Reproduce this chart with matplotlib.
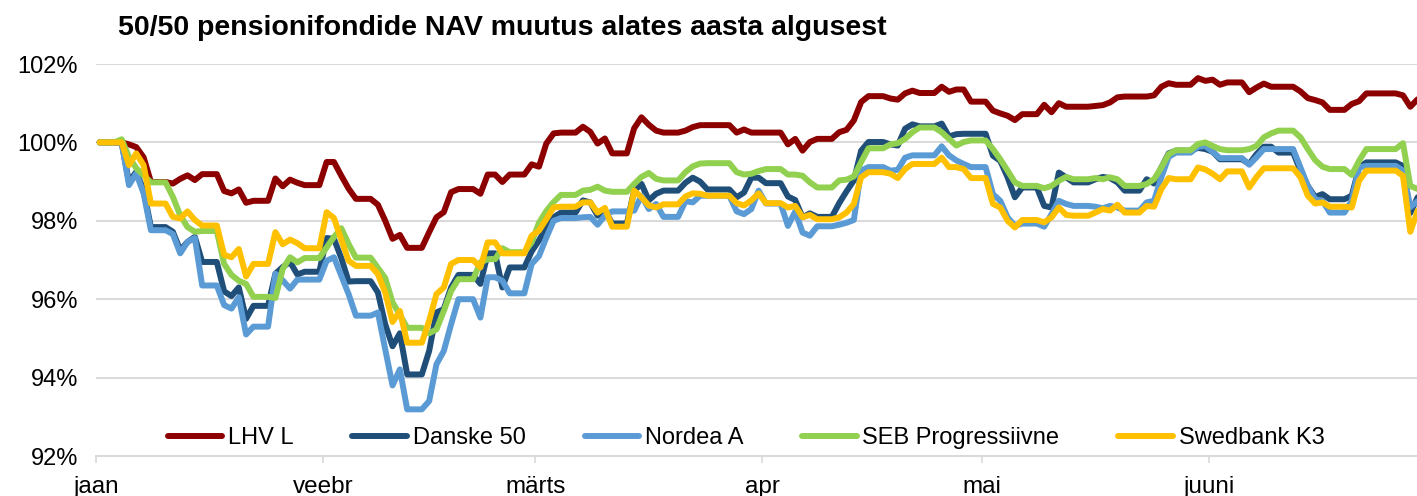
import matplotlib
matplotlib.use("Agg")
import matplotlib.pyplot as plt
import matplotlib.dates as mdates
import pandas as pd
import numpy as np

plt.rcParams['font.family'] = ['Liberation Sans', 'DejaVu Sans']

title = "50/50 pensionifondide NAV muutus alates aasta algusest"
dates = pd.date_range("2016-01-01", "2016-06-29", freq="D")
month_ticks = ["2016-01-01", "2016-02-01", "2016-03-01", "2016-04-01", "2016-05-01", "2016-06-01"]
month_labels = ["jaan", "veebr", "märts", "apr", "mai", "juuni"]
y_ticks = [92, 94, 96, 98, 100, 102]
y_labels = ["92%", "94%", "96%", "98%", "100%", "102%"]

lhv = [100.00, 100.00, 100.00,
       100.00, 99.95, 99.88, 99.62, 98.99, 98.99, 98.99,
       98.95, 99.07, 99.16, 99.04, 99.19, 99.19, 99.19,
       98.76, 98.70, 98.80, 98.46, 98.51, 98.51, 98.51,
       99.08, 98.88, 99.05, 98.97, 98.91, 98.91, 98.91,
       99.50, 99.50, 99.15, 98.82, 98.56, 98.56, 98.56,
       98.41, 98.00, 97.54, 97.64, 97.31, 97.31, 97.31,
       97.71, 98.09, 98.22, 98.73, 98.81, 98.81, 98.81,
       98.69, 99.18, 99.18, 98.99, 99.18, 99.18, 99.18,
       99.44, 99.38, 99.97, 100.23, 100.25, 100.25, 100.25,
       100.40, 100.27, 99.97, 100.10, 99.72, 99.72, 99.72,
       100.36, 100.64, 100.45, 100.30, 100.25, 100.25, 100.25,
       100.30, 100.39, 100.44, 100.44, 100.44, 100.44, 100.44,
       100.25, 100.33, 100.25, 100.25, 100.25, 100.25, 100.25,
       99.95, 100.09, 99.79, 100.01, 100.09, 100.09, 100.09,
       100.26, 100.32, 100.56, 101.03, 101.18, 101.18, 101.18,
       101.12, 101.09, 101.25, 101.32, 101.26, 101.26, 101.26,
       101.42, 101.29, 101.35, 101.35, 101.04, 101.04, 101.04,
       100.81, 100.74, 100.68, 100.57, 100.72, 100.72, 100.72,
       100.96, 100.77, 101.00, 100.91, 100.91, 100.91, 100.91,
       100.93, 100.95, 101.02, 101.15, 101.17, 101.17, 101.17,
       101.17, 101.20, 101.42, 101.51, 101.47, 101.47, 101.47,
       101.64, 101.57, 101.60, 101.47, 101.53, 101.53, 101.53,
       101.28, 101.40, 101.50, 101.42, 101.42, 101.42, 101.42,
       101.30, 101.13, 101.08, 101.02, 100.83, 100.83, 100.83,
       100.98, 101.05, 101.25, 101.25, 101.25, 101.25, 101.25,
       101.20, 100.91, 101.10]

danske = [100.00, 100.00, 100.00,
          100.00, 98.99, 99.25, 98.78, 97.84, 97.84, 97.84,
          97.72, 97.25, 97.46, 97.59, 96.95, 96.95, 96.95,
          96.20, 96.08, 96.30, 95.50, 95.83, 95.83, 95.83,
          96.65, 96.82, 96.95, 96.63, 96.70, 96.70, 96.70,
          97.56, 97.54, 97.05, 96.45, 96.46, 96.46, 96.46,
          96.17, 95.36, 94.80, 95.13, 94.08, 94.08, 94.08,
          94.68, 95.66, 95.75, 96.30, 96.62, 96.62, 96.62,
          96.39, 97.17, 97.17, 96.30, 96.81, 96.81, 96.81,
          97.22, 97.50, 97.83, 98.09, 98.21, 98.21, 98.21,
          98.52, 98.47, 98.13, 98.26, 97.93, 97.93, 97.93,
          98.77, 98.94, 98.52, 98.69, 98.77, 98.77, 98.77,
          98.97, 99.10, 99.00, 98.80, 98.80, 98.80, 98.80,
          98.60, 98.72, 99.10, 99.10, 98.96, 98.96, 98.96,
          98.62, 98.53, 98.09, 98.19, 98.10, 98.10, 98.10,
          98.45, 98.75, 99.03, 99.79, 100.01, 100.01, 100.01,
          99.95, 99.92, 100.35, 100.46, 100.41, 100.41, 100.41,
          100.48, 100.15, 100.21, 100.22, 100.22, 100.22, 100.22,
          99.66, 99.53, 99.11, 98.60, 98.85, 98.85, 98.85,
          98.38, 98.34, 99.23, 99.11, 98.98, 98.98, 98.98,
          99.06, 99.12, 99.09, 98.98, 98.77, 98.77, 98.77,
          99.06, 98.95, 99.36, 99.72, 99.79, 99.79, 99.79,
          99.86, 99.83, 99.76, 99.57, 99.57, 99.57, 99.57,
          99.45, 99.70, 99.89, 99.89, 99.74, 99.74, 99.74,
          99.28, 98.89, 98.61, 98.68, 98.55, 98.55, 98.55,
          98.64, 99.36, 99.49, 99.49, 99.49, 99.49, 99.49,
          99.40, 98.20, 98.60]

nordea = [100.00, 100.00, 100.00,
          100.00, 98.91, 99.21, 98.70, 97.76, 97.76, 97.76,
          97.66, 97.17, 97.46, 97.56, 96.35, 96.35, 96.35,
          95.85, 95.76, 96.05, 95.10, 95.30, 95.30, 95.30,
          96.65, 96.48, 96.27, 96.50, 96.50, 96.50, 96.50,
          96.98, 97.07, 96.60, 96.13, 95.58, 95.58, 95.58,
          95.66, 94.72, 93.80, 94.21, 93.19, 93.19, 93.19,
          93.40, 94.34, 94.68, 95.36, 96.00, 96.00, 96.00,
          95.53, 96.56, 96.56, 96.47, 96.15, 96.15, 96.15,
          96.90, 97.10, 97.57, 98.00, 98.07, 98.07, 98.07,
          98.09, 98.10, 97.90, 98.13, 98.24, 98.24, 98.24,
          98.26, 98.64, 98.30, 98.43, 98.10, 98.10, 98.10,
          98.50, 98.47, 98.64, 98.64, 98.64, 98.64, 98.64,
          98.24, 98.17, 98.30, 98.77, 98.44, 98.44, 98.44,
          97.87, 98.24, 97.70, 97.62, 97.86, 97.86, 97.86,
          97.90, 97.95, 98.02, 99.28, 99.37, 99.37, 99.37,
          99.28, 99.30, 99.61, 99.67, 99.67, 99.67, 99.67,
          99.90, 99.67, 99.54, 99.45, 99.37, 99.37, 99.37,
          98.68, 98.51, 98.09, 97.87, 97.93, 97.93, 97.93,
          97.85, 98.17, 98.51, 98.43, 98.38, 98.38, 98.38,
          98.36, 98.32, 98.38, 98.34, 98.26, 98.26, 98.26,
          98.47, 98.51, 99.11, 99.63, 99.74, 99.74, 99.74,
          99.89, 99.91, 99.76, 99.60, 99.60, 99.60, 99.60,
          99.43, 99.62, 99.83, 99.83, 99.83, 99.83, 99.83,
          99.36, 98.89, 98.55, 98.51, 98.21, 98.21, 98.21,
          98.51, 99.36, 99.40, 99.40, 99.40, 99.40, 99.40,
          99.28, 98.35, 98.50]

seb = [100.00, 100.00, 100.00,
       100.08, 99.63, 99.34, 99.16, 98.98, 98.98, 98.98,
       98.61, 98.14, 97.84, 97.72, 97.74, 97.74, 97.74,
       96.90, 96.62, 96.47, 96.39, 96.06, 96.06, 96.06,
       96.03, 96.77, 97.07, 96.94, 97.05, 97.05, 97.05,
       97.32, 97.59, 97.81, 97.41, 97.06, 97.06, 97.06,
       96.80, 96.54, 95.92, 95.60, 95.27, 95.27, 95.27,
       95.13, 95.23, 95.70, 96.21, 96.51, 96.51, 96.51,
       96.94, 97.02, 97.02, 97.30, 97.20, 97.20, 97.20,
       97.45, 97.95, 98.25, 98.48, 98.66, 98.66, 98.66,
       98.77, 98.79, 98.87, 98.77, 98.74, 98.74, 98.74,
       98.94, 99.12, 99.22, 99.07, 99.03, 99.03, 99.03,
       99.24, 99.39, 99.46, 99.47, 99.47, 99.47, 99.47,
       99.24, 99.18, 99.20, 99.27, 99.32, 99.32, 99.32,
       99.18, 99.18, 99.15, 98.98, 98.85, 98.85, 98.85,
       99.03, 99.05, 99.13, 99.50, 99.85, 99.85, 99.85,
       99.95, 99.98, 100.09, 100.26, 100.38, 100.38, 100.38,
       100.26, 100.09, 99.92, 100.01, 100.05, 100.05, 100.05,
       99.83, 99.57, 99.28, 98.98, 98.89, 98.89, 98.89,
       98.83, 98.89, 99.02, 99.12, 99.06, 99.06, 99.06,
       99.09, 99.06, 99.11, 99.06, 98.89, 98.89, 98.89,
       98.94, 99.06, 99.36, 99.70, 99.80, 99.80, 99.80,
       99.96, 100.00, 99.91, 99.83, 99.80, 99.80, 99.80,
       99.83, 99.91, 100.13, 100.23, 100.30, 100.30, 100.30,
       100.13, 99.83, 99.55, 99.38, 99.32, 99.32, 99.32,
       99.17, 99.53, 99.83, 99.83, 99.83, 99.83, 99.83,
       99.98, 98.89, 98.81]

swedbank = [100.00, 100.00, 100.00,
            100.00, 99.42, 99.72, 99.42, 98.44, 98.44, 98.44,
            98.10, 98.06, 98.24, 98.02, 97.88, 97.88, 97.88,
            97.13, 97.07, 97.28, 96.58, 96.90, 96.90, 96.90,
            97.71, 97.40, 97.52, 97.43, 97.30, 97.30, 97.30,
            98.22, 98.07, 97.52, 96.98, 96.85, 96.85, 96.85,
            96.64, 96.17, 95.42, 95.70, 94.89, 94.89, 94.89,
            95.45, 96.13, 96.30, 96.90, 97.00, 97.00, 97.00,
            96.81, 97.45, 97.45, 97.17, 97.17, 97.17, 97.17,
            97.62, 97.75, 98.04, 98.34, 98.36, 98.36, 98.36,
            98.47, 98.47, 98.21, 98.33, 97.85, 97.85, 97.85,
            98.77, 98.60, 98.39, 98.34, 98.42, 98.42, 98.42,
            98.62, 98.70, 98.69, 98.64, 98.64, 98.64, 98.64,
            98.45, 98.39, 98.52, 98.70, 98.45, 98.45, 98.45,
            98.34, 98.38, 98.09, 98.15, 98.04, 98.04, 98.04,
            98.09, 98.21, 98.43, 99.11, 99.24, 99.24, 99.24,
            99.20, 99.09, 99.32, 99.45, 99.45, 99.45, 99.45,
            99.61, 99.37, 99.37, 99.32, 99.09, 99.09, 99.09,
            98.43, 98.34, 98.00, 97.83, 98.02, 98.02, 98.02,
            97.96, 98.09, 98.34, 98.15, 98.13, 98.13, 98.13,
            98.21, 98.30, 98.26, 98.41, 98.21, 98.21, 98.21,
            98.38, 98.36, 98.81, 99.09, 99.06, 99.06, 99.06,
            99.36, 99.31, 99.20, 99.06, 99.26, 99.26, 99.26,
            98.85, 99.12, 99.34, 99.34, 99.34, 99.34, 99.34,
            99.11, 98.64, 98.44, 98.47, 98.36, 98.36, 98.36,
            98.34, 99.02, 99.28, 99.28, 99.28, 99.28, 99.28,
            99.15, 97.72, 98.26]

series_names = ["LHV L", "Danske 50", "Nordea A", "SEB Progressiivne", "Swedbank K3"]
series_values = [lhv, danske, nordea, seb, swedbank]
series_colors = ["#8C0000", "#1F4E79", "#5B9BD5", "#92D050", "#FFC000"]

W, H = 1417, 496
fig = plt.figure(figsize=(W / 100, H / 100), dpi=100)
ax = fig.add_axes([96 / W, 40 / H, 1 - 96 / W, (456 - 64) / H])

x = dates + pd.Timedelta(hours=12)
for name, vals, col in zip(series_names, series_values, series_colors):
    ax.plot(x, vals, color=col, lw=4.3, label=name,
            solid_joinstyle="round", solid_capstyle="round")

x0 = pd.Timestamp("2016-01-01")
ax.set_xlim(x0, x0 + pd.Timedelta(days=(1417 - 96) / 7.322))
ax.set_ylim(92, 102)

grid_col = "#D9D9D9"
ax.set_yticks(y_ticks)
ax.set_yticklabels(y_labels)
ax.yaxis.grid(True, color=grid_col, lw=1.4)
ax.set_axisbelow(True)
ax.tick_params(axis="y", length=0, pad=13, labelsize=17, colors="#000000")

ax.set_xticks([pd.Timestamp(m) for m in month_ticks])
ax.set_xticklabels(month_labels)
ax.tick_params(axis="x", length=5, width=1.2, color=grid_col, pad=9.5, labelsize=17.5)

for s in ["top", "right", "left"]:
    ax.spines[s].set_visible(False)
ax.spines["bottom"].set_color(grid_col)
ax.spines["bottom"].set_linewidth(1.4)

fig.text(118 / W, 1 - 28 / H, title, fontsize=20.5, fontweight="bold",
         ha="left", va="center")

leg = ax.legend(loc="center", bbox_to_anchor=(746 / W, 1 - 438 / H),
                bbox_transform=fig.transFigure, ncol=5, frameon=False,
                fontsize=17, handlelength=2.3, handletextpad=0.25,
                columnspacing=2.5, borderpad=0, borderaxespad=0)

fig.savefig("out.png", dpi=100)
